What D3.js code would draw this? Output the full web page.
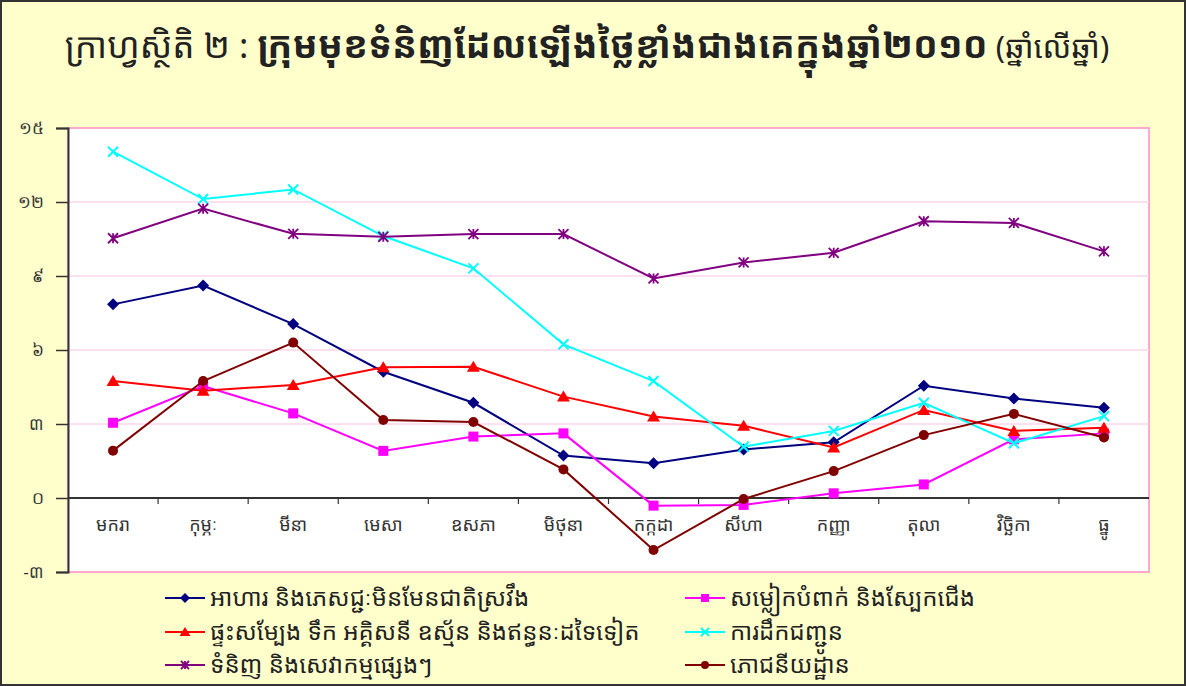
<!DOCTYPE html>
<html lang="km">
<head>
<meta charset="utf-8">
<title>ក្រាហ្វស្ថិតិ ២</title>
<script src="https://cdn.jsdelivr.net/npm/d3@7"></script>
<style>
  body { margin: 0; background: #fff; }
  svg { display: block; font-family: "Noto Sans Khmer", "Khmer OS", "Khmer OS System", "Noto Serif Khmer", "DejaVu Sans", sans-serif; }
</style>
</head>
<body>
<div id="chart"></div>
<script>
// months
const months = ["មករា", "កុម្ភៈ", "មីនា", "មេសា", "ឧសភា", "មិថុនា", "កក្កដា", "សីហា", "កញ្ញា", "តុលា", "វិច្ឆិកា", "ធ្នូ"];

// series values (percent, year on year)
const food      = [7.85, 8.61, 7.05, 5.12, 3.86, 1.72, 1.41, 1.97, 2.26, 4.55, 4.03, 3.66];
const clothing  = [3.05, 4.54, 3.43, 1.91, 2.49, 2.62, -0.31, -0.28, 0.19, 0.55, 2.38, 2.62];
const housing   = [4.74, 4.35, 4.58, 5.30, 5.32, 4.11, 3.30, 2.93, 2.05, 3.57, 2.72, 2.85];
const transport = [14.04, 12.12, 12.51, 10.62, 9.31, 6.23, 4.74, 2.08, 2.72, 3.86, 2.22, 3.32];
const misc      = [10.53, 11.73, 10.71, 10.59, 10.70, 10.70, 8.90, 9.55, 9.94, 11.22, 11.15, 10.00];
const restaurants = [1.92, 4.74, 6.30, 3.16, 3.08, 1.16, -2.11, -0.04, 1.09, 2.55, 3.41, 2.45];

const seriesNames = [
  "អាហារ និងភេសជ្ជៈមិនមែនជាតិស្រវឹង",
  "សម្លៀកបំពាក់ និងស្បែកជើង",
  "ផ្ទះសម្បែង ទឹក អគ្គិសនី ឧស្ម័ន និងឥន្ធនៈដទៃទៀត",
  "ការដឹកជញ្ជូន",
  "ទំនិញ និងសេវាកម្មផ្សេងៗ",
  "ភោជនីយដ្ឋាន"
];

const yTicks = [-3, 0, 3, 6, 9, 12, 15];

const W = 1186, H = 686;
const plot = {left: 68, right: 1149, top: 128, bottom: 572};

const series = [
  {name: seriesNames[0], values: food,        color: "#000080", marker: "diamond"},
  {name: seriesNames[1], values: clothing,    color: "#FF00FF", marker: "square"},
  {name: seriesNames[2], values: housing,     color: "#FF0000", marker: "triangle"},
  {name: seriesNames[3], values: transport,   color: "#00FFFF", marker: "x"},
  {name: seriesNames[4], values: misc,        color: "#800080", marker: "star"},
  {name: seriesNames[5], values: restaurants, color: "#800000", marker: "circle"}
];

const khmerDigits = "០១២៣៤៥៦៧៨៩";
const toKhmer = n => String(n).replace(/[0-9]/g, d => khmerDigits[+d]);

const svg = d3.select("#chart").append("svg")
  .attr("width", W)
  .attr("height", H);

// background + outer frame
svg.append("rect")
  .attr("x", 1).attr("y", 1)
  .attr("width", W - 2).attr("height", H - 2)
  .attr("fill", "#FFFFCC")
  .attr("stroke", "#333")
  .attr("stroke-width", 2);

// title
const title = svg.append("text")
  .attr("x", W / 2 - 6)
  .attr("y", 58)
  .attr("text-anchor", "middle")
  .attr("fill", "#222");
title.append("tspan").attr("font-size", 35).text("ក្រាហ្វស្ថិតិ ២ : ");
title.append("tspan").attr("font-size", 37).attr("font-weight", "bold").text("ក្រុមមុខទំនិញដែលឡើងថ្លៃខ្លាំងជាងគេក្នុងឆ្នាំ២០១០");
title.append("tspan").attr("font-size", 31).text(" (ឆ្នាំលើឆ្នាំ)");

const x = d3.scaleBand()
  .domain(months)
  .range([plot.left, plot.right]);

const y = d3.scaleLinear()
  .domain([-3, 15])
  .range([plot.bottom, plot.top]);

// plot area
svg.append("rect")
  .attr("x", plot.left).attr("y", plot.top)
  .attr("width", plot.right - plot.left)
  .attr("height", plot.bottom - plot.top)
  .attr("fill", "#fff")
  .attr("stroke", "#FFAACC")
  .attr("stroke-width", 2);

// gridlines
svg.append("g")
  .selectAll("line")
  .data(yTicks.filter(d => d > 0 && d < 15))
  .join("line")
  .attr("x1", plot.left).attr("x2", plot.right)
  .attr("y1", d => y(d)).attr("y2", d => y(d))
  .attr("stroke", "#FFD6EC")
  .attr("stroke-width", 1.5);

// left axis
const leftAxis = d3.axisLeft(y)
  .tickValues(yTicks)
  .tickSize(12)
  .tickPadding(12)
  .tickFormat(d => d < 0 ? "-" + toKhmer(-d) : toKhmer(d));

const gy = svg.append("g")
  .attr("transform", "translate(" + plot.left + ",0)")
  .call(leftAxis);
gy.select(".domain").attr("stroke", "#333").attr("stroke-width", 2);
gy.selectAll(".tick line").attr("stroke", "#333").attr("stroke-width", 1.5);
gy.selectAll(".tick text").attr("font-size", 17).attr("fill", "#333");

// zero line with ticks between months
const gx = svg.append("g");
gx.append("line")
  .attr("x1", plot.left).attr("x2", plot.right)
  .attr("y1", y(0)).attr("y2", y(0))
  .attr("stroke", "#333").attr("stroke-width", 2);
gx.selectAll("line.tk")
  .data(months.slice(1))
  .join("line")
  .attr("class", "tk")
  .attr("x1", d => x(d)).attr("x2", d => x(d))
  .attr("y1", y(0)).attr("y2", y(0) + 6)
  .attr("stroke", "#333").attr("stroke-width", 1.2);
gx.selectAll("text")
  .data(months)
  .join("text")
  .attr("x", d => x(d) + x.bandwidth() / 2)
  .attr("y", y(0) + 33)
  .attr("text-anchor", "middle")
  .attr("font-size", 18)
  .attr("fill", "#333")
  .text(d => d);

// marker drawing
function drawMarker(g, type, color, s) {
  const h = s / 2;
  if (type === "diamond") {
    g.append("path").attr("d", `M0,${-h - 1}L${h + 1},0L0,${h + 1}L${-h - 1},0Z`)
      .attr("fill", color);
  } else if (type === "square") {
    g.append("rect").attr("x", -h).attr("y", -h)
      .attr("width", s).attr("height", s).attr("fill", color);
  } else if (type === "triangle") {
    g.append("path").attr("d", `M0,${-h - 1}L${h + 1.5},${h}L${-h - 1.5},${h}Z`)
      .attr("fill", color);
  } else if (type === "circle") {
    g.append("circle").attr("r", h).attr("fill", color);
  } else if (type === "x") {
    g.append("path").attr("d", `M${-h},${-h}L${h},${h}M${-h},${h}L${h},${-h}`)
      .attr("stroke", color).attr("stroke-width", 2);
  } else if (type === "star") {
    g.append("path").attr("d", `M${-h},${-h}L${h},${h}M${-h},${h}L${h},${-h}M0,${-h}L0,${h}`)
      .attr("stroke", color).attr("stroke-width", 1.8);
  }
}

const line = d3.line()
  .x((d, i) => x(months[i]) + x.bandwidth() / 2)
  .y(d => y(d));

const seriesG = svg.append("g");
series.forEach(s => {
  const g = seriesG.append("g");
  g.append("path")
    .attr("d", line(s.values))
    .attr("fill", "none")
    .attr("stroke", s.color)
    .attr("stroke-width", 2);
  s.values.forEach((v, i) => {
    const m = g.append("g")
      .attr("transform", "translate(" + (x(months[i]) + x.bandwidth() / 2) + "," + y(v) + ")");
    drawMarker(m, s.marker, s.color, 10);
  });
});

// legend, two columns
const legendPos = [
  [165, 598], [685, 598],
  [165, 632], [685, 632],
  [165, 665], [685, 665]
];
series.forEach((s, i) => {
  const [lx, ly] = legendPos[i];
  const g = svg.append("g").attr("transform", "translate(" + lx + "," + ly + ")");
  g.append("line").attr("x1", 0).attr("x2", 40).attr("y1", 0).attr("y2", 0)
    .attr("stroke", s.color).attr("stroke-width", 2);
  const m = g.append("g").attr("transform", "translate(20,0)");
  drawMarker(m, s.marker, s.color, 8);
  g.append("text")
    .attr("x", 45)
    .attr("y", 0)
    .attr("dy", "0.35em")
    .attr("font-size", 24)
    .attr("fill", "#222")
    .text(s.name);
});
</script>
</body>
</html>
